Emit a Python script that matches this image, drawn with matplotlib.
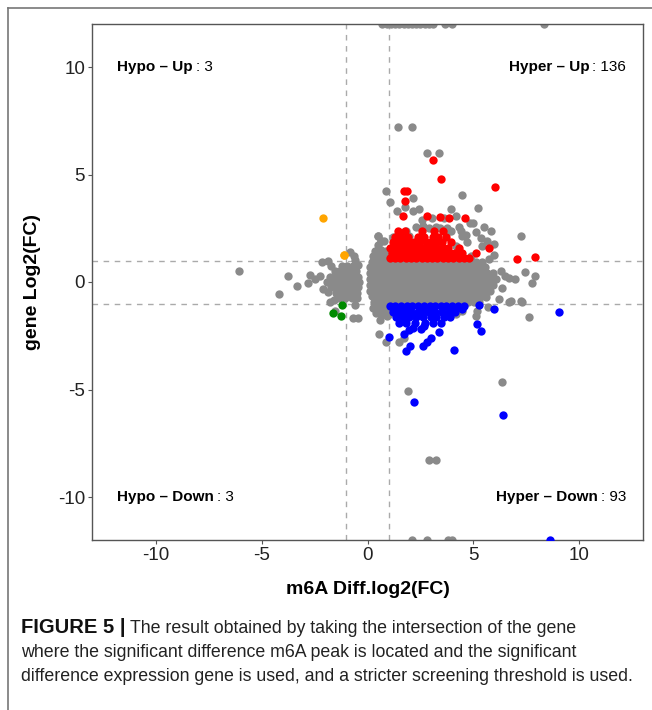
import matplotlib
matplotlib.use("Agg")
import matplotlib.pyplot as plt
from matplotlib.lines import Line2D

plt.rcParams['font.family'] = ['Liberation Sans', 'DejaVu Sans']
plt.rcParams['axes.unicode_minus'] = False

# ---------------- data ----------------
# dense grey body of the main cloud, row by row: (y, [x...])
blob_rows = [
    (0.95, [0.20, 0.46, 0.72, 0.98, 1.24, 1.50, 1.76, 2.02, 2.28, 2.54, 2.80, 3.06, 3.32, 3.58, 3.84, 4.10, 4.36, 4.62, 4.88, 5.14, 5.40]),
    (0.68, [0.13, 0.33, 0.59, 0.85, 1.11, 1.37, 1.63, 1.89, 2.15, 2.41, 2.67, 2.93, 3.19, 3.45, 3.71, 3.97, 4.23, 4.49, 4.75, 5.01, 5.27, 5.53]),
    (0.41, [0.12, 0.20, 0.46, 0.72, 0.98, 1.24, 1.50, 1.76, 2.02, 2.28, 2.54, 2.80, 3.06, 3.32, 3.58, 3.84, 4.10, 4.36, 4.62, 4.88, 5.14, 5.40, 5.66, 5.90]),
    (0.14, [0.12, 0.33, 0.59, 0.85, 1.11, 1.37, 1.63, 1.89, 2.15, 2.41, 2.67, 2.93, 3.19, 3.45, 3.71, 3.97, 4.23, 4.49, 4.75, 5.01, 5.27, 5.53, 5.79, 6.04]),
    (-0.13, [0.12, 0.20, 0.46, 0.72, 0.98, 1.24, 1.50, 1.76, 2.02, 2.28, 2.54, 2.80, 3.06, 3.32, 3.58, 3.84, 4.10, 4.36, 4.62, 4.88, 5.14, 5.40, 5.66, 5.92]),
    (-0.40, [0.13, 0.33, 0.59, 0.85, 1.11, 1.37, 1.63, 1.89, 2.15, 2.41, 2.67, 2.93, 3.19, 3.45, 3.71, 3.97, 4.23, 4.49, 4.75, 5.01, 5.27, 5.53, 5.79]),
    (-0.67, [0.20, 0.46, 0.72, 0.98, 1.24, 1.50, 1.76, 2.02, 2.28, 2.54, 2.80, 3.06, 3.32, 3.58, 3.84, 4.10, 4.36, 4.62, 4.88, 5.14, 5.40]),
    (-0.94, [0.33, 0.59, 0.85, 1.11, 1.37, 1.63, 1.89, 2.15, 2.41, 2.67, 2.93, 3.19, 3.45, 3.71, 3.97, 4.23, 4.49, 4.75, 5.01, 5.27]),
]

# left grey cluster near x = -1
left_rows = [
    (0.75, [-1.70, -1.20, -0.95, -0.70]),
    (0.50, [-1.55, -1.30, -1.05, -0.80, -0.55]),
    (0.25, [-1.75, -1.45, -1.20, -0.95, -0.70, -0.45]),
    (0.00, [-1.90, -1.60, -1.35, -1.10, -0.85, -0.60, -0.40]),
    (-0.25, [-1.70, -1.45, -1.20, -0.95, -0.70, -0.45]),
    (-0.50, [-1.50, -1.25, -1.00, -0.75, -0.50]),
    (-0.75, [-1.35, -1.05, -0.75, -0.50]),
]

# scattered grey points
grey_x = [0.25, 0.50, 0.75, 0.95, 0.35, 0.62, 0.88, 0.50, 0.80, 0.66, 0.50, 1.21,
          0.25, 0.50, 0.75, 0.95, 0.40, 0.70, 0.95, 0.60, 0.94,
          1.46, 2.11, 2.79, 3.36, 0.86, 2.17, 1.05, 4.48, 5.23, 3.94, 1.41, 1.75, 2.13, 2.43,
          2.58, 3.04, 3.63, 4.16, 7.26, 5.84, 5.99, 5.96, 5.37, 5.51, 4.99, 4.82, 5.10, 4.65,
          4.43, 4.30, 0.50, 0.66, 2.27, 2.91, 3.43, 3.76, 3.94,
          4.48, 4.71, 4.16, 5.41, 5.65, 4.87, 3.85, 2.60, 3.22, 1.82, 1.35, 1.97,
          4.46, 4.16, 5.18, 5.10, 5.60, 6.20, 6.67, 7.29, 7.60, 6.67, 6.98, 7.45, 7.92, 7.76,
          6.75, 7.26, 6.30, 6.35, 6.50, 5.75, 5.70,
          0.56, 0.88, 1.50, 1.74, 1.92, 6.35, 2.88, 3.22,
          -6.04, -3.77, -3.35, -4.18, -2.72, -2.49, -2.80, -2.25, -2.17, -1.86, -2.10, -1.86,
          -1.78, -1.55, -0.69, -0.45, -0.83, -0.64, -0.45, -0.60, -1.60, -0.60,
          0.70, 0.90, 1.10, 1.30, 1.50, 1.70, 1.90, 2.10, 2.30, 2.50, 2.70, 2.90, 3.10, 3.65, 4.00, 8.31,
          2.10, 2.83, 3.82, 4.00]
grey_y = [1.20, 1.22, 1.20, 1.25, 1.45, 1.48, 1.42, 1.72, 1.90, 1.89, 2.14, 2.11,
          -1.20, -1.18, -1.22, -1.20, -1.45, -1.50, -1.55, -1.75, -1.57,
          7.20, 7.20, 5.99, 5.99, 4.22, 3.91, 3.73, 4.06, 3.46, 3.40, 3.32, 3.47, 3.29, 3.40,
          2.90, 2.96, 2.96, 3.08, 2.16, 2.36, 1.77, 1.27, 2.03, 2.54, 2.74, 2.73, 2.31, 2.19,
          2.39, 2.56, 2.14, 1.89, 2.57, 2.50, 2.51, 2.50, 2.39,
          2.16, 1.85, 1.69, 1.69, 1.92, 1.22, 2.39, 2.62, 2.54, 2.39, 2.08, 2.16,
          -1.33, -1.49, -1.33, -1.57, -0.71, -0.79, -0.94, -0.92, -1.64, 0.17, 0.14, 0.45, 0.29, -0.06,
          -0.90, -0.90, 0.50, -0.30, 0.30, 1.05, -1.15,
          -2.42, -2.81, -2.81, -2.62, -5.07, -4.67, -8.28, -8.28,
          0.53, 0.29, -0.20, -0.56, 0.34, 0.14, -0.05, 0.29, 0.92, 0.99, -0.33, -0.48,
          -0.95, -1.33, -1.69, -1.69, 1.40, 1.22, 0.80, 1.04, -0.85, -1.05,
          12, 12, 12, 12, 12, 12, 12, 12, 12, 12, 12, 12, 12, 12, 12, 12,
          -12, -12, -12, -12]

# Hyper-Up (red)
red_rows = [
    (1.12, [1.05, 1.30, 1.55, 1.80, 2.05, 2.30, 2.55, 2.80, 3.05, 3.30, 3.55, 3.80, 4.05, 4.30, 4.55, 4.80]),
    (1.36, [1.15, 1.40, 1.65, 1.90, 2.15, 2.40, 2.65, 2.90, 3.15, 3.40, 3.65, 3.90, 4.15, 4.45]),
    (1.60, [1.05, 1.30, 1.55, 1.80, 2.05, 2.30, 2.55, 2.80, 3.05, 3.30, 3.55, 3.80, 4.30]),
    (1.84, [1.20, 1.45, 1.70, 1.95, 2.20, 2.45, 2.75, 3.00, 3.25, 3.50, 3.95]),
    (2.08, [1.30, 1.60, 1.90, 2.40, 2.65, 3.10, 3.35, 3.70]),
    (2.35, [1.45, 1.75, 2.55, 3.15, 3.55]),
]
red_x = [3.08, 3.49, 6.01, 1.74, 1.86, 1.75, 1.66, 2.82, 3.43, 3.85, 4.60, 7.89, 7.07, 5.12, 5.71]
red_y = [5.69, 4.80, 4.40, 4.22, 4.22, 3.75, 3.07, 3.07, 3.01, 2.98, 2.98, 1.18, 1.07, 1.33, 1.58]

# Hyper-Down (blue)
blue_rows = [
    (-1.12, [1.05, 1.30, 1.58, 1.85, 2.10, 2.40, 2.65, 2.95, 3.20, 3.45, 3.72, 3.98, 4.25, 4.55]),
    (-1.38, [1.20, 1.50, 1.78, 2.05, 2.36, 2.62, 2.92, 3.20, 3.50, 3.85, 4.15]),
    (-1.64, [1.35, 1.66, 1.95, 2.30, 2.62, 3.00, 3.25, 3.60, 3.90]),
    (-1.90, [1.50, 1.80, 2.25, 2.70, 3.10, 3.45]),
]
blue_x = [5.26, 5.96, 5.18, 5.34, 4.08, 3.38, 2.99, 2.83, 2.60, 2.00, 1.82, 1.00, 1.74, 1.94,
          2.13, 2.52, 2.68, 4.48, 9.05, 2.21, 6.38, 8.62]
blue_y = [-1.05, -1.26, -1.95, -2.29, -3.15, -2.31, -2.62, -2.80, -2.96, -2.96, -3.20, -2.55, -2.42, -2.23,
          -2.15, -2.19, -2.06, -1.26, -1.38, -5.60, -6.17, -12]

# Hypo-Down (green) and Hypo-Up (orange)
green_x = [-1.19, -1.63, -1.25]
green_y = [-1.07, -1.44, -1.60]
orange_x = [-2.10, -1.11, -1.13]
orange_y = [2.98, 1.27, 1.25]

labels = [("Hypo \u2013 Up", ": 3"), ("Hyper \u2013 Up", ": 136"),
          ("Hypo \u2013 Down", ": 3"), ("Hyper \u2013 Down", ": 93")]

xticks = [-10, -5, 0, 5, 10]
yticks = [-10, -5, 0, 5, 10]


def flatten(rows):
    xs, ys = [], []
    for y, row in rows:
        xs.extend(row)
        ys.extend([y] * len(row))
    return xs, ys


# ---------------- figure ----------------
W, H = 652, 710
fig = plt.figure(figsize=(W / 100, H / 100), dpi=100)
ax = fig.add_axes([92 / W, 1 - 540 / H, (643 - 92) / W, (540 - 24) / H])

S = 36
GREY = '#8a8a8a'
bx, by = flatten(blob_rows)
lx, ly = flatten(left_rows)
ax.scatter(bx + lx + grey_x, by + ly + grey_y, s=S, c=GREY, linewidths=0, zorder=2)
rx, ry = flatten(red_rows)
ax.scatter(rx + red_x, ry + red_y, s=S, c='#ff0000', linewidths=0, zorder=3)
blx, bly = flatten(blue_rows)
ax.scatter(blx + blue_x, bly + blue_y, s=S, c='#0000ff', linewidths=0, zorder=3)
ax.scatter(green_x, green_y, s=S, c='#008b00', linewidths=0, zorder=3)
ax.scatter(orange_x, orange_y, s=S, c='#ffa500', linewidths=0, zorder=3)

for v in (-1, 1):
    ax.axvline(v, color='#aaaaaa', lw=1.0, ls=(0, (4, 4)), zorder=1)
    ax.axhline(v, color='#aaaaaa', lw=1.0, ls=(0, (4, 4)), zorder=1)

ax.set_xlim(-13, 13)
ax.set_ylim(-12, 12)
ax.set_xticks(xticks)
ax.set_yticks(yticks)
ax.tick_params(length=3, width=0.8, color='#555555', labelsize=13.5, labelcolor='#222222', pad=2)
for sp in ax.spines.values():
    sp.set_color('#555555')
    sp.set_linewidth(1.0)

ax.set_xlabel('m6A Diff.log2(FC)', fontsize=14, fontweight='bold', labelpad=12)
ax.set_ylabel('gene Log2(FC)', fontsize=14, fontweight='bold', labelpad=12)

fig.canvas.draw()
r = fig.canvas.get_renderer()
TS = 11
# left-aligned labels
for (b, n), y in ((labels[0], 10), (labels[2], -10)):
    t = ax.text(-11.8, y, b, fontsize=TS, fontweight='bold', ha='left', va='center')
    bb = t.get_window_extent(r)
    xd = ax.transData.inverted().transform((bb.x1 + 3, 0))[0]
    ax.text(xd, y, n, fontsize=TS, ha='left', va='center')
# right-aligned labels
for (b, n), y in ((labels[1], 10), (labels[3], -10)):
    t = ax.text(12.2, y, n, fontsize=TS, ha='right', va='center')
    bb = t.get_window_extent(r)
    xd = ax.transData.inverted().transform((bb.x0 - 3, 0))[0]
    ax.text(xd, y, b, fontsize=TS, fontweight='bold', ha='right', va='center')

# caption
cap_lines = ["The result obtained by taking the intersection of the gene",
             "where the significant difference m6A peak is located and the significant",
             "difference expression gene is used, and a stricter screening threshold is used."]
CS = 12.8
t = fig.text(21 / W, 1 - 633 / H, "FIGURE 5 |", fontsize=14.5, fontweight='bold', ha='left', va='baseline', color='#111111')
bb = t.get_window_extent(r)
fig.text((bb.x1 + 5) / W, 1 - 633 / H, cap_lines[0], fontsize=CS, ha='left', va='baseline', color='#222222')
fig.text(21 / W, 1 - 657 / H, cap_lines[1], fontsize=CS, ha='left', va='baseline', color='#222222')
fig.text(21 / W, 1 - 681 / H, cap_lines[2], fontsize=CS, ha='left', va='baseline', color='#222222')

# outer frame (top and left)
fig.add_artist(Line2D([8 / W, 1], [1 - 8 / H, 1 - 8 / H], color='#777777', lw=1.2))
fig.add_artist(Line2D([8 / W, 8 / W], [1 - 8 / H, 0], color='#777777', lw=1.2))

fig.savefig('out.png', dpi=100)
